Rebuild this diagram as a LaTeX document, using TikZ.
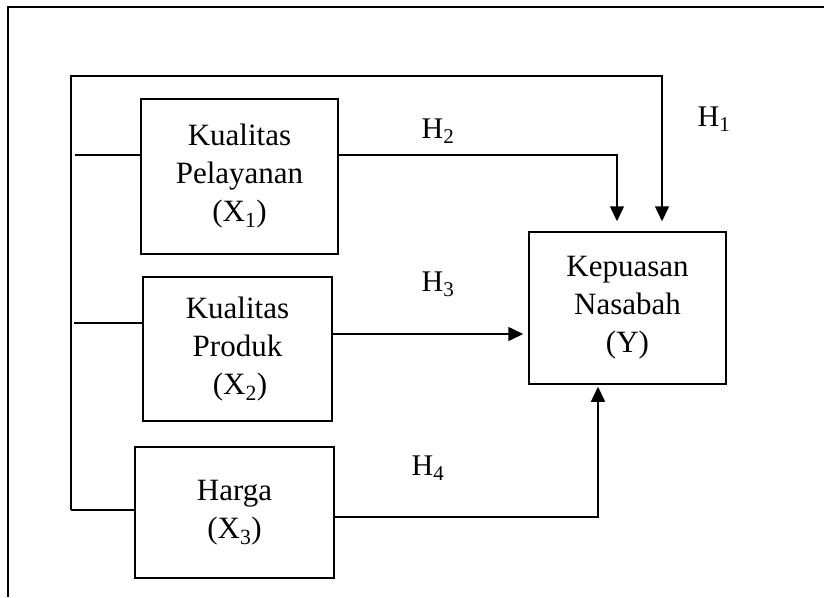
\documentclass[tikz,border=0pt]{standalone}
\usepackage{fontspec}
\setmainfont{Liberation Serif}
\usetikzlibrary{arrows.meta}

\tikzset{
	varbox/.style={draw, line width=1.5pt, align=center, inner sep=0pt,
		font=\fontsize{31}{38}\selectfont},
	hlabel/.style={font=\fontsize{30}{34}\selectfont, inner sep=0pt},
	link/.style={line width=1.5pt},
	arr/.style={link, -{Triangle[width=14pt,length=15pt]}}
}

\begin{document}
\begin{tikzpicture}[x=1pt,y=-1pt]
		\useasboundingbox (0,0) rectangle (824,597);
		% frame
		\draw[line width=1.5pt] (8,597) -- (8,7) -- (826,7);

		% variables
		\node[varbox, minimum width=197pt, minimum height=155pt] (x1) at (239.5,176.5) {Kualitas\\Pelayanan\\(X\textsubscript{1})};
		\node[varbox, minimum width=189pt, minimum height=144pt] (x2) at (237.5,349) {Kualitas\\Produk\\\,(X\textsubscript{2})};
		\node[varbox, minimum width=199pt, minimum height=131pt] (x3) at (234.5,512.5) {Harga\\(X\textsubscript{3})};
		\node[varbox, minimum width=197pt, minimum height=152pt] (y) at (627.5,308) {Kepuasan\\Nasabah\\(Y)};

		% bus on the left
		\coordinate (bustop) at (71,76);
		\coordinate (busbot) at (71,510);
		\draw[arr, shorten >=10pt] (busbot) -- (bustop) -| ([xshift=34.5pt]y.north);
		\draw[link] (75,155) -- ([yshift=21.5pt]x1.west);
		\draw[link] (74,323) -- ([yshift=26pt]x2.west);
		\draw[link] (busbot) -- ([yshift=2.5pt]x3.west);

		% hypotheses
		\draw[arr, shorten >=10pt] ([yshift=21.5pt]x1.east) -| ([xshift=-10.5pt]y.north);
		\draw[arr, shorten >=5pt] ([yshift=15pt]x2.east) -- ([yshift=-26pt]y.west);
		\draw[arr, shorten >=2pt] ([yshift=-4.5pt]x3.east) -| ([xshift=-29.5pt]y.south);

		\node[hlabel] (h1) at (714,119) {H\textsubscript{1}};
		\node[hlabel] (h2) at (438,131) {H\textsubscript{2}};
		\node[hlabel] (h3) at (438,284) {H\textsubscript{3}};
		\node[hlabel] (h4) at (428,468) {H\textsubscript{4}};
	\end{tikzpicture}
\end{document}
